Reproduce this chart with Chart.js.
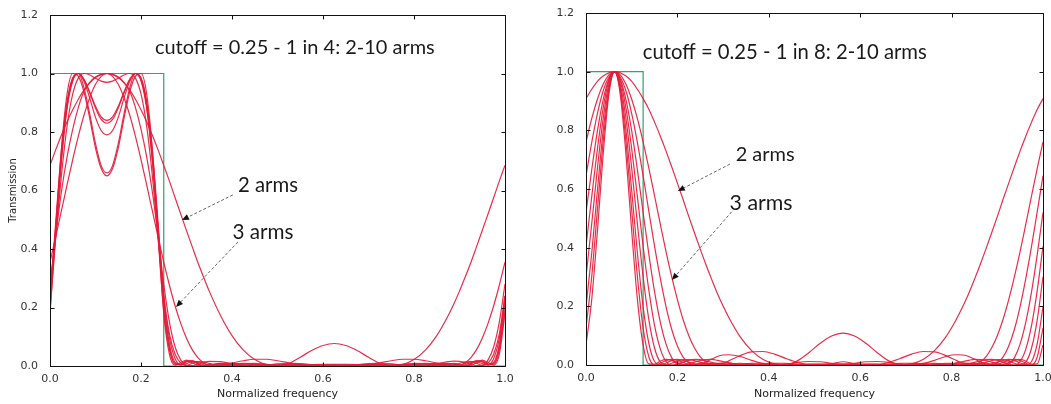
<!DOCTYPE html>
<html><head><meta charset="utf-8">
<script src="https://cdn.jsdelivr.net/npm/chart.js@4.4.1/dist/chart.umd.min.js"></script>
<style>
html,body{margin:0;padding:0;background:#fff;overflow:hidden;width:1051px;height:404px;position:relative;}
canvas{position:absolute;top:0;}
#c1{left:0;} #c2{left:530px;}
</style></head><body>
<canvas id="c1" width="520" height="404"></canvas>
<canvas id="c2" width="530" height="404"></canvas>
<script>
const xTickLabels = ['0.0','0.2','0.4','0.6','0.8','1.0'];
const yTickLabels = ['0.0','0.2','0.4','0.6','0.8','1.0','1.2'];
const armCounts = [2,3,4,5,6,7,8,9,10];

// ---- left panel: cutoff 0.25, 1 in 4 ----
const leftX = [0,0.0125,0.025,0.0375,0.05,0.0625,0.075,0.0875,0.1,0.1125,0.125,
0.1375,0.15,0.1625,0.175,0.1875,0.2,0.2125,0.225,0.2375,0.25,0.2625,0.275,0.2875,0.3,0.3125,0.325,0.3375,0.35,
0.375,0.4,0.425,0.45,0.475,0.5,0.525,0.55,0.575,0.6,0.625,
0.65,0.675,0.7,0.725,0.75,0.775,0.8,0.825,0.85,0.875,
0.8875,0.9,0.9125,0.925,0.9375,0.95,0.9625,0.975,0.9875,1.0];
const left2 = [0.686,0.739,0.789,0.835,0.876,0.913,0.944,0.968,0.986,0.996,1.000,
0.996,0.986,0.968,0.944,0.913,0.876,0.835,0.789,0.739,0.686,0.632,0.575,0.519,0.463,0.408,0.354,0.304,0.256,
0.172,0.104,0.054,0.022,0.005,0.000,0.009,0.030,0.053,0.070,0.077,
0.070,0.053,0.030,0.009,0.000,0.005,0.022,0.054,0.104,0.172,
0.212,0.256,0.304,0.354,0.408,0.463,0.519,0.575,0.632,0.686];
const left3 = [0.355,0.441,0.530,0.619,0.706,0.787,0.859,0.918,0.963,0.990,1.000,
0.990,0.963,0.918,0.859,0.787,0.706,0.619,0.530,0.441,0.355,0.276,0.205,0.145,0.095,0.056,0.029,0.011,0.002,
0.002,0.010,0.018,0.023,0.023,0.018,0.011,0.005,0.001,0.000,0.002,
0.000,0.001,0.005,0.011,0.018,0.023,0.023,0.018,0.010,0.002,
0.000,0.002,0.011,0.029,0.056,0.095,0.145,0.205,0.276,0.355];
const left4 = [0.280,0.445,0.595,0.715,0.810,0.885,0.940,0.970,0.988,0.997,1.000,
0.997,0.988,0.970,0.940,0.885,0.810,0.715,0.595,0.445,0.280,0.150,0.065,0.020,0.002,0.001,0.006,0.012,0.016,
0.015,0.008,0.002,0.000,0.003,0.007,0.009,0.008,0.005,0.002,0.001,
0.002,0.005,0.008,0.009,0.007,0.003,0.000,0.002,0.008,0.015,
0.017,0.016,0.012,0.006,0.001,0.002,0.020,0.065,0.150,0.280];
const left5 = [0.240,0.440,0.650,0.820,0.930,0.985,1.000,0.995,0.984,0.974,0.970,
0.974,0.984,0.995,1.000,0.985,0.930,0.820,0.650,0.440,0.240,0.110,0.040,0.010,0.002,0.009,0.014,0.014,0.009,
0.001,0.004,0.008,0.009,0.006,0.002,0.000,0.002,0.005,0.006,0.006,
0.006,0.005,0.002,0.000,0.002,0.006,0.009,0.008,0.004,0.001,
0.004,0.009,0.014,0.014,0.009,0.002,0.010,0.040,0.110,0.240];
const left6 = [0.240,0.470,0.705,0.880,0.975,1.000,0.980,0.936,0.888,0.852,0.840,
0.852,0.888,0.936,0.980,1.000,0.975,0.880,0.705,0.470,0.240,0.095,0.025,0.004,0.008,0.015,0.015,0.009,0.003,
0.002,0.007,0.009,0.005,0.001,0.001,0.004,0.006,0.005,0.002,0.001,
0.002,0.005,0.006,0.004,0.001,0.001,0.005,0.009,0.007,0.002,
0.000,0.003,0.009,0.015,0.015,0.008,0.004,0.025,0.095,0.240];
const left7 = [0.230,0.490,0.735,0.905,0.985,1.000,0.972,0.915,0.850,0.805,0.790,
0.805,0.850,0.915,0.972,1.000,0.985,0.905,0.735,0.490,0.230,0.075,0.012,0.004,0.014,0.018,0.012,0.004,0.000,
0.006,0.009,0.004,0.000,0.003,0.006,0.004,0.001,0.001,0.004,0.005,
0.004,0.001,0.001,0.004,0.006,0.003,0.000,0.004,0.009,0.006,
0.002,0.000,0.004,0.012,0.018,0.014,0.004,0.012,0.075,0.230];
const left8 = [0.190,0.440,0.700,0.890,0.985,1.000,0.950,0.860,0.760,0.685,0.660,
0.685,0.760,0.860,0.950,1.000,0.985,0.890,0.700,0.440,0.190,0.055,0.006,0.006,0.018,0.018,0.008,0.001,0.002,
0.009,0.004,0.000,0.004,0.006,0.002,0.000,0.003,0.005,0.003,0.001,
0.003,0.005,0.003,0.000,0.002,0.006,0.004,0.000,0.004,0.009,
0.007,0.002,0.001,0.008,0.018,0.018,0.006,0.006,0.055,0.190];
const left9 = [0.215,0.475,0.720,0.890,0.978,1.000,0.978,0.933,0.882,0.843,0.830,
0.843,0.882,0.933,0.978,1.000,0.978,0.890,0.720,0.475,0.215,0.065,0.008,0.005,0.016,0.016,0.007,0.000,0.003,
0.008,0.003,0.001,0.005,0.005,0.001,0.002,0.004,0.003,0.001,0.001,
0.001,0.003,0.004,0.002,0.001,0.005,0.005,0.001,0.003,0.008,
0.007,0.003,0.000,0.007,0.016,0.016,0.005,0.008,0.065,0.215];
const left10 = [0.180,0.460,0.740,0.930,1.000,0.990,0.935,0.845,0.745,0.675,0.650,
0.675,0.745,0.845,0.935,0.990,1.000,0.930,0.740,0.460,0.180,0.040,0.003,0.012,0.020,0.011,0.002,0.001,0.006,
0.006,0.000,0.004,0.006,0.002,0.000,0.003,0.005,0.002,0.000,0.002,
0.000,0.002,0.005,0.003,0.000,0.002,0.006,0.004,0.000,0.006,
0.009,0.006,0.001,0.002,0.011,0.020,0.012,0.003,0.040,0.180];
const leftIdealX = [0,0.25,0.25,1];
const leftIdealY = [1,1,0,0];

// ---- right panel: cutoff 0.25, 1 in 8 ----
const rightX = [0,0.0125,0.025,0.0375,0.05,0.0625,
0.075,0.0875,0.1,0.1125,0.125,0.1375,0.15,0.1625,0.175,0.1875,0.2,0.2125,0.225,0.2375,0.25,0.2625,0.275,0.2875,0.3,0.3125,
0.3375,0.3625,0.3875,0.4125,0.4375,0.4625,0.4875,0.5125,0.5375,0.5625,
0.5875,0.6125,0.6375,0.6625,0.6875,0.7125,0.7375,0.7625,0.7875,
0.8,0.8125,0.825,0.8375,0.85,0.8625,0.875,0.8875,0.9,0.9125,0.925,0.9375,0.95,0.9625,0.975,0.9875,1.0];
const right2 = [0.908,0.940,0.967,0.985,0.996,1.000,0.996,0.985,0.967,0.940,0.908,0.872,0.828,0.781,0.730,0.676,0.620,0.564,0.506,0.450,0.395,0.342,0.292,0.244,0.201,0.162,
0.096,0.049,0.019,0.004,0.000,0.014,0.042,0.074,0.099,0.109,
0.099,0.074,0.042,0.014,0.000,0.004,0.019,0.049,0.096,
0.127,0.162,0.201,0.244,0.292,0.342,0.395,0.450,0.506,0.564,0.620,0.676,0.730,0.781,0.828,0.872,0.908];
const right3 = [0.760,0.840,0.906,0.957,0.989,1.000,0.989,0.957,0.906,0.840,0.760,0.671,0.577,0.481,0.387,0.301,0.223,0.155,0.100,0.058,0.028,0.010,0.001,0.001,0.005,0.014,
0.032,0.045,0.046,0.037,0.022,0.009,0.001,0.001,0.005,0.011,
0.005,0.001,0.001,0.009,0.022,0.037,0.046,0.045,0.032,
0.023,0.014,0.005,0.001,0.001,0.010,0.028,0.058,0.100,0.155,0.223,0.301,0.387,0.481,0.577,0.671,0.760];
const right4 = [0.645,0.758,0.857,0.934,0.981,1.000,0.981,0.934,0.857,0.758,0.645,0.524,0.405,0.296,0.200,0.122,0.065,0.027,0.007,0.000,0.003,0.011,0.020,0.029,0.034,0.035,
0.029,0.016,0.005,0.000,0.003,0.009,0.012,0.011,0.006,0.002,
0.006,0.011,0.012,0.009,0.003,0.000,0.005,0.016,0.029,
0.034,0.035,0.034,0.029,0.020,0.011,0.003,0.000,0.007,0.027,0.065,0.122,0.200,0.296,0.405,0.524,0.645];
const right5 = [0.520,0.665,0.798,0.904,0.974,1.000,0.974,0.904,0.798,0.665,0.520,0.378,0.250,0.147,0.072,0.025,0.003,0.000,0.004,0.010,0.015,0.018,0.019,0.016,0.012,0.008,
0.001,0.000,0.004,0.006,0.006,0.002,0.000,0.000,0.002,0.003,
0.002,0.000,0.000,0.002,0.006,0.006,0.004,0.000,0.001,
0.004,0.008,0.012,0.016,0.019,0.018,0.015,0.010,0.004,0.000,0.003,0.025,0.072,0.147,0.250,0.378,0.520];
const right6 = [0.405,0.573,0.737,0.875,0.968,1.000,0.968,0.875,0.737,0.573,0.405,0.255,0.135,0.055,0.012,0.000,0.003,0.010,0.016,0.019,0.018,0.014,0.009,0.004,0.001,0.000,
0.003,0.006,0.006,0.002,0.000,0.001,0.003,0.003,0.001,0.000,
0.001,0.003,0.003,0.001,0.000,0.002,0.006,0.006,0.003,
0.001,0.000,0.001,0.004,0.009,0.014,0.018,0.019,0.016,0.010,0.003,0.000,0.012,0.055,0.135,0.255,0.405];
const right7 = [0.301,0.481,0.671,0.840,0.957,1.000,0.957,0.840,0.671,0.481,0.301,0.155,0.058,0.010,0.001,0.006,0.013,0.018,0.018,0.015,0.009,0.004,0.000,0.000,0.002,0.004,
0.006,0.003,0.000,0.001,0.003,0.002,0.000,0.000,0.002,0.002,
0.002,0.000,0.000,0.002,0.003,0.001,0.000,0.003,0.006,
0.006,0.004,0.002,0.000,0.000,0.004,0.009,0.015,0.018,0.018,0.013,0.006,0.001,0.010,0.058,0.155,0.301];
const right8 = [0.198,0.381,0.595,0.799,0.945,1.000,0.945,0.799,0.595,0.381,0.198,0.074,0.012,0.001,0.007,0.015,0.019,0.016,0.010,0.004,0.000,0.000,0.003,0.005,0.007,0.006,
0.001,0.000,0.003,0.003,0.000,0.000,0.002,0.002,0.000,0.000,
0.000,0.002,0.002,0.000,0.000,0.003,0.003,0.000,0.001,
0.004,0.006,0.007,0.005,0.003,0.000,0.000,0.004,0.010,0.016,0.019,0.015,0.007,0.001,0.012,0.074,0.198];
const right9 = [0.126,0.301,0.529,0.760,0.934,1.000,0.934,0.760,0.529,0.301,0.126,0.028,0.000,0.006,0.015,0.019,0.016,0.009,0.002,0.000,0.001,0.004,0.006,0.006,0.004,0.001,
0.001,0.003,0.002,0.000,0.001,0.002,0.000,0.000,0.001,0.001,
0.001,0.000,0.000,0.002,0.001,0.000,0.002,0.003,0.001,
0.000,0.001,0.004,0.006,0.006,0.004,0.001,0.000,0.002,0.009,0.016,0.019,0.015,0.006,0.000,0.028,0.126];
const right10 = [0.068,0.223,0.457,0.717,0.922,1.000,0.922,0.717,0.457,0.223,0.068,0.004,0.003,0.013,0.019,0.016,0.008,0.002,0.000,0.003,0.006,0.006,0.004,0.002,0.000,0.001,
0.003,0.002,0.000,0.002,0.001,0.000,0.001,0.001,0.000,0.000,
0.000,0.001,0.001,0.000,0.001,0.002,0.000,0.002,0.003,
0.002,0.001,0.000,0.002,0.004,0.006,0.006,0.003,0.000,0.002,0.008,0.016,0.019,0.013,0.003,0.004,0.068];
const rightIdealX = [0,0.125,0.125,1];
const rightIdealY = [1,1,0,0];

const leftTitle = 'cutoff = 0.25 - 1 in 4: 2-10 arms';
const rightTitle = 'cutoff = 0.25 - 1 in 8: 2-10 arms';
const xAxisTitle = 'Normalized frequency';
const yAxisTitle = 'Transmission';

// annotation layout (data coordinates)
const leftDecor = {
  title:{text:leftTitle, at:[0.538,1.09], width:280},
  notes:[
    {text:'2 arms', at:[0.479,0.619], width:60, from:[0.402,0.585], to:[0.290,0.499]},
    {text:'3 arms', at:[0.468,0.458], width:61, from:[0.413,0.424], to:[0.277,0.202]}
  ]
};
const rightDecor = {
  title:{text:rightTitle, at:[0.435,1.064], width:284},
  notes:[
    {text:'2 arms', at:[0.392,0.716], width:59, from:[0.315,0.685], to:[0.201,0.593]},
    {text:'3 arms', at:[0.383,0.552], width:63, from:[0.326,0.535], to:[0.188,0.290]}
  ]
};

const RED = 'rgba(228,28,58,0.92)';
const GREEN = '#2fa46c';
const TEXT_FONT = 'Lato, "Open Sans", sans-serif';

function fitSize(ctx, text, width){
  ctx.font = '20px ' + TEXT_FONT;
  return 20 * width / ctx.measureText(text).width;
}

const decorPlugin = {
  id:'decor',
  afterDraw(chart, args, opts){
    const {ctx, chartArea:a, scales:{x, y}} = chart;
    ctx.save();
    ctx.strokeStyle = '#111'; ctx.lineWidth = 1;
    const L = Math.round(a.left)+0.5, T = Math.round(a.top)+0.5,
          R = Math.round(a.right)+0.5, B = Math.round(a.bottom)+0.5;
    ctx.beginPath(); ctx.rect(L, T, R-L, B-T); ctx.stroke();
    ctx.beginPath();
    x.ticks.forEach(t => {
      const px = Math.round(x.getPixelForValue(t.value))+0.5;
      ctx.moveTo(px, B); ctx.lineTo(px, B-4);
      ctx.moveTo(px, T); ctx.lineTo(px, T+4);
    });
    y.ticks.forEach(t => {
      const py = Math.round(y.getPixelForValue(t.value))+0.5;
      ctx.moveTo(L, py); ctx.lineTo(L+4, py);
      ctx.moveTo(R, py); ctx.lineTo(R-4, py);
    });
    ctx.stroke();
    ctx.fillStyle = '#1a1a1a';
    ctx.textAlign = 'center'; ctx.textBaseline = 'middle';
    const t = opts.title;
    ctx.font = fitSize(ctx, t.text, t.width).toFixed(2) + 'px ' + TEXT_FONT;
    ctx.fillText(t.text, x.getPixelForValue(t.at[0]), y.getPixelForValue(t.at[1]));
    opts.notes.forEach(n => {
      ctx.font = fitSize(ctx, n.text, n.width).toFixed(2) + 'px ' + TEXT_FONT;
      ctx.fillStyle = '#1a1a1a';
      ctx.fillText(n.text, x.getPixelForValue(n.at[0]), y.getPixelForValue(n.at[1]));
      const x0 = x.getPixelForValue(n.from[0]), y0 = y.getPixelForValue(n.from[1]);
      const x1 = x.getPixelForValue(n.to[0]), y1 = y.getPixelForValue(n.to[1]);
      const ang = Math.atan2(y1-y0, x1-x0);
      const hl = 7, hw = 3;
      const bx = x1 - hl*Math.cos(ang), by = y1 - hl*Math.sin(ang);
      ctx.strokeStyle = '#666'; ctx.lineWidth = 1; ctx.setLineDash([3,2]);
      ctx.beginPath(); ctx.moveTo(x0, y0); ctx.lineTo(bx, by); ctx.stroke();
      ctx.setLineDash([]);
      ctx.fillStyle = '#111';
      ctx.beginPath();
      ctx.moveTo(x1, y1);
      ctx.lineTo(bx + hw*Math.sin(ang), by - hw*Math.cos(ang));
      ctx.lineTo(bx - hw*Math.sin(ang), by + hw*Math.cos(ang));
      ctx.closePath(); ctx.fill();
    });
    ctx.restore();
  }
};

function makeChart(id, xs, series, idealX, idealY, geo, decor, showYTitle){
  const datasets = series.map((s, i) => ({
    label: armCounts[i] + ' arms',
    data: xs.map((xv, j) => ({x: xv, y: s[j]})),
    borderColor: RED, borderWidth: 1.2, pointRadius: 0,
    cubicInterpolationMode: 'monotone', fill: false
  }));
  datasets.push({
    label: 'ideal',
    data: idealX.map((xv, j) => ({x: xv, y: idealY[j]})),
    borderColor: GREEN, borderWidth: 1.2, pointRadius: 0, tension: 0, fill: false
  });
  return new Chart(document.getElementById(id), {
    type: 'line',
    data: {datasets},
    options: {
      responsive: false, animation: false, events: [],
      layout: {padding: {left: 0, top: geo.top, right: geo.right, bottom: 0}},
      plugins: {legend: {display: false}, tooltip: {enabled: false}, decor: decor},
      scales: {
        x: {
          type: 'linear', min: 0, max: 1,
          grid: {display: false}, border: {display: false},
          ticks: {stepSize: 0.2, padding: -1, color: '#333', maxRotation: 0,
                  font: {family: '"DejaVu Sans"', size: 11},
                  callback: (v, i) => xTickLabels[i]},
          title: {display: true, text: xAxisTitle, color: '#222',
                  font: {family: '"DejaVu Sans"', size: 11}, padding: {top: 3, bottom: 3}},
          afterFit: s => { s.height = geo.xh; }
        },
        y: {
          type: 'linear', min: 0, max: 1.2,
          grid: {display: false}, border: {display: false},
          ticks: {stepSize: 0.2, padding: 4, color: '#333',
                  font: {family: '"DejaVu Sans"', size: 11},
                  callback: (v, i) => yTickLabels[i]},
          title: {display: showYTitle, text: yAxisTitle, color: '#222',
                  font: {family: '"DejaVu Sans"', size: 10}, padding: {top: 7, bottom: 0}},
          afterFit: s => { s.width = geo.yw; }
        }
      }
    },
    plugins: [decorPlugin]
  });
}

makeChart('c1', leftX, [left2,left3,left4,left5,left6,left7,left8,left9,left10],
  leftIdealX, leftIdealY, {top: 15, right: 15, yw: 50, xh: 38}, leftDecor, true);
makeChart('c2', rightX, [right2,right3,right4,right5,right6,right7,right8,right9,right10],
  rightIdealX, rightIdealY, {top: 13, right: 17, yw: 56, xh: 39}, rightDecor, false);
</script>
</body></html>
